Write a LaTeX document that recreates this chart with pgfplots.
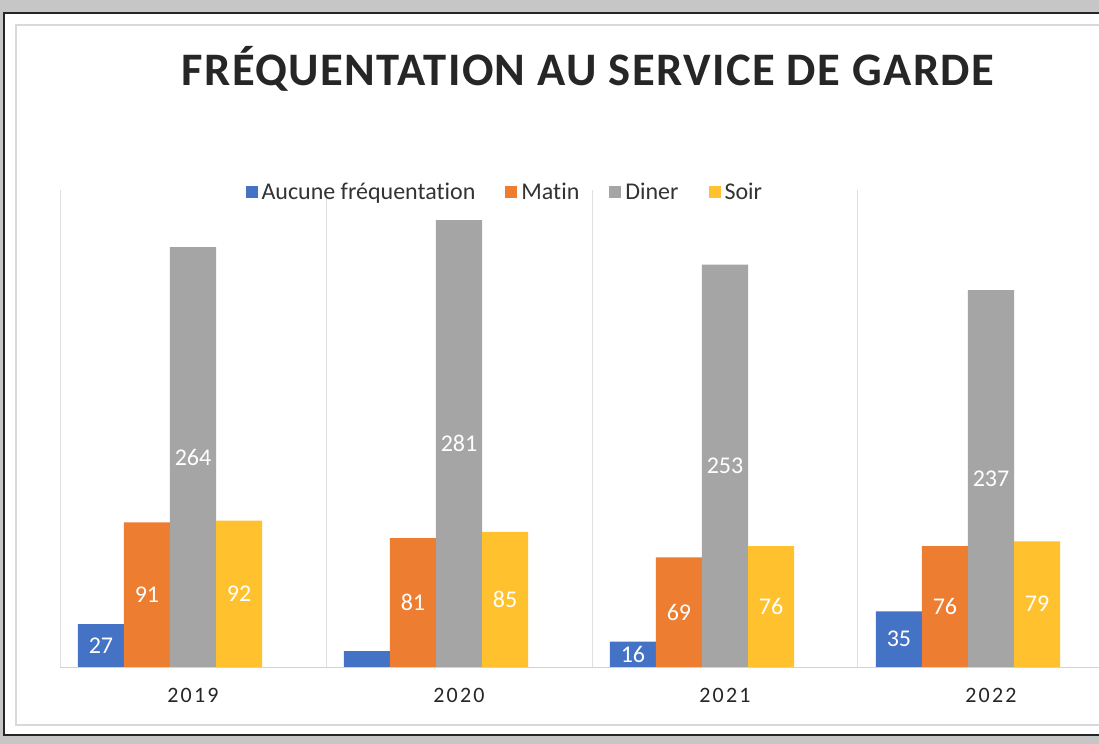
\documentclass[border=0pt]{standalone}
\usepackage{fontspec}
\setmainfont[Ligatures=NoCommon]{Carlito}
\newfontfamily\titlefont[LetterSpace=3]{Carlito}
\newfontfamily\tickfont[LetterSpace=10]{Carlito}
\usepackage{pgfplots}
\pgfplotsset{compat=1.18}
\definecolor{sblue}{HTML}{4472C4}
\definecolor{sorange}{HTML}{ED7D31}
\definecolor{sgray}{HTML}{A5A5A5}
\definecolor{sgold}{HTML}{FFC22E}
\pgfplotsset{sq/.style={legend image code/.code={\fill[##1] (0pt,-3pt) rectangle (6pt,3pt);}}}
\begin{document}
\begin{tikzpicture}
% photo margin and frames
\fill[gray!45] (0,0) rectangle (549.5pt,372pt);
\useasboundingbox (0,0) rectangle (549.5pt,372pt);
\fill[white] (2pt,4.5pt) rectangle (549.5pt,365.5pt);
\draw[black!85, line width=1.3pt] (549.5pt,365.5pt) -- (2pt,365.5pt) -- (2pt,4.5pt) -- (549.5pt,4.5pt);
\draw[gray!30, line width=0.6pt] (549.5pt,359.5pt) -- (8pt,359.5pt) -- (8pt,9.5pt) -- (549.5pt,9.5pt);
\node[font=\titlefont\bfseries\fontsize{23.3}{28}\selectfont, text=black!85] at (294pt,337.5pt) {FRÉQUENTATION AU SERVICE DE GARDE};
\begin{scope}
\clip (2pt,4.5pt) rectangle (549.5pt,365.5pt);
\begin{axis}[
  at={(30pt,38.5pt)}, anchor=south west,
  scale only axis, width=532pt, height=238.5pt,
  xmin=-0.5, xmax=3.5, ymin=0, ymax=300,
  ybar=0pt, bar width=0.173,
  hide y axis,
  axis x line*=bottom,
  x axis line style={gray!35},
  xtick={0,1,2,3},
  xticklabels={2019,2020,2021,2022},
  major tick length=0pt,
  xticklabel style={font=\tickfont\fontsize{11}{13}\selectfont, text=black!85, yshift=-7pt},
  extra x ticks={-0.5,0.5,1.5,2.5},
  extra x tick labels={},
  extra x tick style={grid=major, major grid style={gray!25, line width=0.5pt}},
  point meta=explicit symbolic,
  nodes near coords,
  visualization depends on={rawy \as \rawy},
  every node near coord/.append style={anchor=center, font=\fontsize{12}{14}\selectfont, text=white,
    shift={(axis direction cs:0,-\rawy/2)}},
  legend style={at={(0.419,0.995)}, anchor=center, legend columns=4, draw=none, fill=none,
    font=\fontsize{12}{14}\selectfont, text=black!80,
    /tikz/every even column/.append style={column sep=13pt}},
]
\addplot[fill=sblue, draw=none, sq, bar shift=-0.346] coordinates {(0,27) [27] (1,10) [{}] (2,16) [16] (3,35) [35]};
\addplot[fill=sorange, draw=none, sq, bar shift=-0.173] coordinates {(0,91) [91] (1,81) [81] (2,69) [69] (3,76) [76]};
\addplot[fill=sgray, draw=none, sq, bar shift=0] coordinates {(0,264) [264] (1,281) [281] (2,253) [253] (3,237) [237]};
\addplot[fill=sgold, draw=none, sq, bar shift=0.173] coordinates {(0,92) [92] (1,85) [85] (2,76) [76] (3,79) [79]};
\legend{Aucune fréquentation, Matin, Diner, Soir}
\end{axis}
\end{scope}
\end{tikzpicture}
\end{document}
